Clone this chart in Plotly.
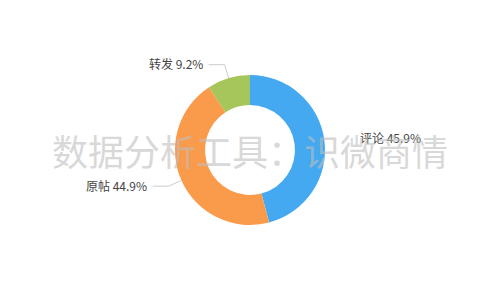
import math
import plotly.graph_objects as go

labels = ["评论", "原帖", "转发"]
values = [45.9, 44.9, 9.2]
colors = ["#44a9f0", "#fa9a4b", "#a6c55b"]
show_line = [False, True, True]
watermark = "数据分析工具：识微商情"

W, H = 500, 300
cx, cy, R = 250.0, 150.0, 75.0
L1, L2, GAP = 14.0, 16.0, 4.0

fig = go.Figure(go.Pie(
    labels=labels, values=values, sort=False, direction="clockwise", rotation=0,
    hole=0.6, textinfo="none", marker=dict(colors=colors, line=dict(width=0)),
    domain=dict(x=[0, 1], y=[0.25, 0.75]), showlegend=False,
))

def px2paper(x, y):
    return x / W, 1 - y / H

total = sum(values)
acc = 0.0
shapes = []
annotations = []
for lab, v, sl in zip(labels, values, show_line):
    mid = (acc + v / 2) / total * 2 * math.pi
    acc += v
    s, c = math.sin(mid), math.cos(mid)
    p0 = (cx + R * s, cy - R * c)
    p1 = (cx + (R + L1) * s, cy - (R + L1) * c)
    side = 1 if s >= 0 else -1
    p2 = (p1[0] + side * L2, p1[1])
    line_style = dict(color="#cccccc", width=1)
    if sl:
        for a, b in ((p0, p1), (p1, p2)):
            x0, y0 = px2paper(*a)
            x1, y1 = px2paper(*b)
            shapes.append(dict(type="line", xref="paper", yref="paper",
                               x0=x0, y0=y0, x1=x1, y1=y1, line=line_style))
    tx, ty = px2paper(p2[0] + side * GAP, p2[1] - 1)
    pct = v / total * 100
    annotations.append(dict(
        x=tx, y=ty, xref="paper", yref="paper", showarrow=False,
        text=f"{lab} {pct:.1f}%", xanchor="left" if side > 0 else "right", yanchor="middle",
        font=dict(size=12, color="#444444", family="Noto Sans CJK SC"),
    ))

annotations.append(dict(
    x=0.5, y=0.5, xref="paper", yref="paper", showarrow=False, text=watermark,
    font=dict(size=36, color="rgba(190,190,190,0.6)", family="Noto Sans CJK SC"),
    xanchor="center", yanchor="middle",
))

fig.update_layout(
    width=W, height=H, margin=dict(l=0, r=0, t=0, b=0),
    paper_bgcolor="white", plot_bgcolor="white",
    shapes=shapes, annotations=annotations,
)
fig.write_html("out.html")
